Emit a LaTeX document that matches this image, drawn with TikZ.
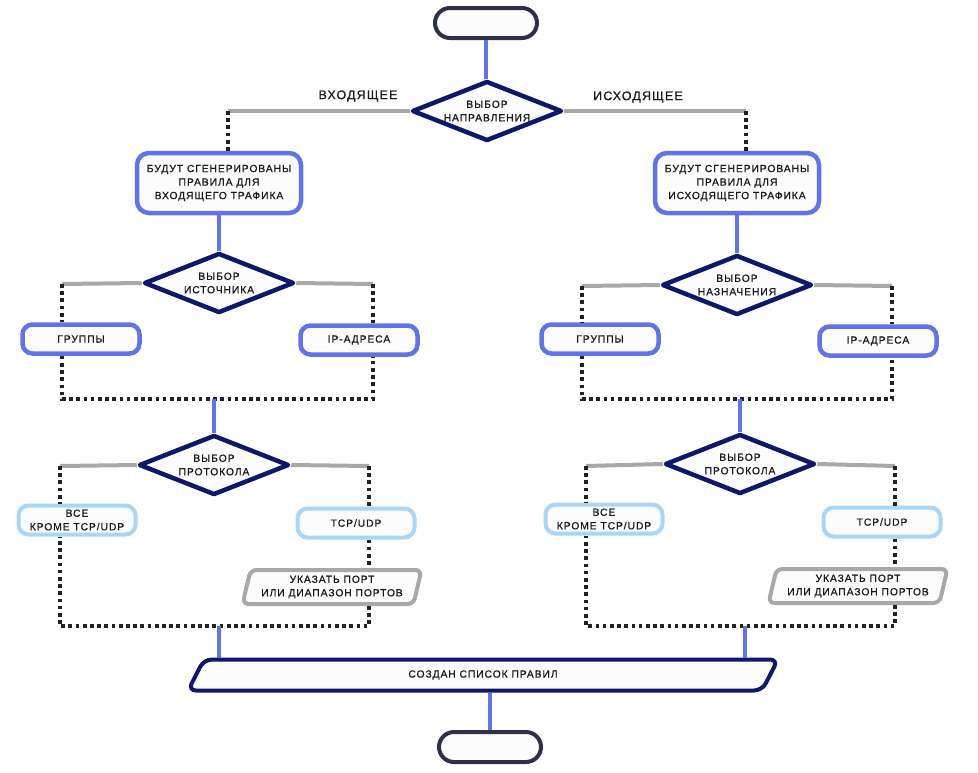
\documentclass[tikz,border=0pt]{standalone}
\usepackage{fontspec}
\setmainfont{Liberation Sans}[LetterSpace=9, RawFeature={embolden=0.6}]
\usepackage{tikz}
\usetikzlibrary{shapes.geometric}
\definecolor{navy}{HTML}{10176B}
\definecolor{flowblue}{HTML}{6172EA}
\definecolor{skyblue}{HTML}{A8D5F8}
\definecolor{linegray}{HTML}{A8A8A8}
\definecolor{termgray}{HTML}{2D3047}
\definecolor{boxfill}{HTML}{FCFCFC}
\definecolor{dotgray}{HTML}{222222}
\tikzset{
  lbl/.style={font=\fontsize{10.3}{13.5}\selectfont, text=black!90, align=center},
  side/.style={lbl, font=\fontsize{12.5}{14}\selectfont},
  term/.style={draw=termgray, line width=4pt, fill=boxfill, rounded corners=15pt,
    minimum width=102pt, minimum height=30pt},
  choice/.style={diamond, aspect=2.4, draw=navy, line width=4.5pt, fill=boxfill, line join=round,
    inner sep=0pt, minimum width=150pt, minimum height=60pt, lbl},
  genbox/.style={draw=flowblue, line width=4.5pt, fill=boxfill, rounded corners=12pt,
    minimum width=164pt, minimum height=60pt, inner sep=1pt, lbl},
  optbox/.style={draw=flowblue, line width=4.5pt, fill=boxfill, rounded corners=10pt,
    minimum width=117pt, minimum height=29pt, lbl},
  protobox/.style={draw=skyblue, line width=4pt, fill=boxfill, rounded corners=10pt,
    minimum width=117pt, minimum height=29pt, inner sep=1pt, lbl},
  portbox/.style={trapezium, trapezium left angle=72, trapezium right angle=108,
    trapezium stretches body, draw=linegray, line width=4pt, fill=boxfill,
    rounded corners=6pt, minimum width=179pt, minimum height=34pt, inner sep=1pt, lbl},
  done/.style={trapezium, trapezium left angle=45, trapezium right angle=135,
    trapezium stretches body, draw=navy, line width=4pt, fill=boxfill,
    rounded corners=8pt, minimum width=590pt, minimum height=31pt, lbl},
  flow/.style={draw=flowblue, line width=4pt},
  split/.style={draw=linegray, line width=4pt},
  dots/.style={draw=dotgray, line width=3.7pt, dash pattern=on 3.7pt off 3.5pt},
}

\begin{document}
\begin{tikzpicture}[x=1pt,y=-1pt]
\useasboundingbox (0,0) rectangle (978,772);
% shapes
\node[term] (start) at (486,23) {};
\node[choice] (dir) at (487,111) {ВЫБОР\\НАПРАВЛЕНИЯ};
\node[side] (inLbl) at (358,96) {ВХОДЯЩЕЕ};
\node[side] (outLbl) at (638,97) {ИСХОДЯЩЕЕ};
\node[genbox] (genIn) at (219,183) {БУДУТ СГЕНЕРИРОВАНЫ\\ПРАВИЛА ДЛЯ\\ВХОДЯЩЕГО ТРАФИКА};
\node[genbox] (genOut) at (737,183) {БУДУТ СГЕНЕРИРОВАНЫ\\ПРАВИЛА ДЛЯ\\ИСХОДЯЩЕГО ТРАФИКА};
\node[choice] (src) at (219,283) {ВЫБОР\\ИСТОЧНИКА};
\node[choice] (dst) at (737,285) {ВЫБОР\\НАЗНАЧЕНИЯ};
\node[optbox] (grpIn) at (81,339) {ГРУППЫ};
\node[optbox] (ipIn) at (359,340) {IP-АДРЕСА};
\node[optbox] (grpOut) at (600,339) {ГРУППЫ};
\node[optbox] (ipOut) at (878,341) {IP-АДРЕСА};
\node[choice] (protoIn) at (214,465) {ВЫБОР\\ПРОТОКОЛА};
\node[choice] (protoOut) at (740,464) {ВЫБОР\\ПРОТОКОЛА};
\node[protobox] (allIn) at (77,520) {ВСЕ\\КРОМЕ TCP/UDP};
\node[protobox] (tcpIn) at (356,523) {TCP/UDP};
\node[protobox] (allOut) at (604,519) {ВСЕ\\КРОМЕ TCP/UDP};
\node[protobox] (tcpOut) at (882,522) {TCP/UDP};
\node[portbox] (portIn) at (332,587) {УКАЗАТЬ ПОРТ\\ИЛИ ДИАПАЗОН ПОРТОВ};
\node[portbox] (portOut) at (858,586) {УКАЗАТЬ ПОРТ\\ИЛИ ДИАПАЗОН ПОРТОВ};
\node[done] (list) at (483,675) {СОЗДАН СПИСОК ПРАВИЛ};
\node[term] (stop) at (490,747) {};

% corners
\coordinate (kInL) at (228,111);
\coordinate (kOutR) at (746,111);
\coordinate (sL) at (62,284);
\coordinate (sR) at (373,284);
\coordinate (dL) at (582,286);
\coordinate (dR) at (892,286);
\coordinate (mIn) at (214,399);
\coordinate (mOut) at (740,399);
\coordinate (pL) at (60,466);
\coordinate (pR) at (369,466);
\coordinate (qL) at (586,466);
\coordinate (qR) at (895,466);
\coordinate (nIn) at (219,626);
\coordinate (nOut) at (745,626);

% direction
\draw[flow] (start.south) -- (start.south |- dir.north);
\draw[split] (dir.west) -- (kInL);
\draw[dots] (kInL) -- (kInL |- genIn.north);
\draw[split] (dir.east) -- (kOutR);
\draw[dots] (kOutR) -- (kOutR |- genOut.north);
\draw[flow] (genIn.south) -- (src.north);
\draw[flow] (genOut.south) -- (dst.north);

% source / destination
\draw[split] (src.west) -- (sL);
\draw[dots] (sL) -- (sL |- grpIn.north);
\draw[split] (src.east) -- (sR);
\draw[dots] (sR) -- (sR |- ipIn.north);
\draw[dots] (sL |- grpIn.south) -- (sL |- mIn) -- (sR |- mIn) -- (sR |- ipIn.south);
\draw[flow] (mIn) -- (protoIn.north);
\draw[split] (dst.west) -- (dL);
\draw[dots] (dL) -- (dL |- grpOut.north);
\draw[split] (dst.east) -- (dR);
\draw[dots] (dR) -- (dR |- ipOut.north);
\draw[dots] (dL |- grpOut.south) -- (dL |- mOut) -- (dR |- mOut) -- (dR |- ipOut.south);
\draw[flow] (mOut) -- (protoOut.north);

% protocol
\draw[split] (protoIn.west) -- (pL);
\draw[dots] (pL) -- (pL |- allIn.north);
\draw[split] (protoIn.east) -- (pR);
\draw[dots] (pR) -- (pR |- tcpIn.north);
\draw[dots] (pR |- tcpIn.south) -- (pR |- portIn.north);
\draw[dots] (pR |- portIn.south) -- (pR |- nIn) -- (pL |- nIn) -- (pL |- allIn.south);
\draw[flow] (nIn) -- (nIn |- list.north);
\draw[split] (protoOut.west) -- (qL);
\draw[dots] (qL) -- (qL |- allOut.north);
\draw[split] (protoOut.east) -- (qR);
\draw[dots] (qR) -- (qR |- tcpOut.north);
\draw[dots] (qR |- tcpOut.south) -- (qR |- portOut.north);
\draw[dots] (qR |- portOut.south) -- (qR |- nOut) -- (qL |- nOut) -- (qL |- allOut.south);
\draw[flow] (nOut) -- (nOut |- list.north);

% end
\draw[flow] (stop.north |- list.south) -- (stop.north);
\end{tikzpicture}
\end{document}
